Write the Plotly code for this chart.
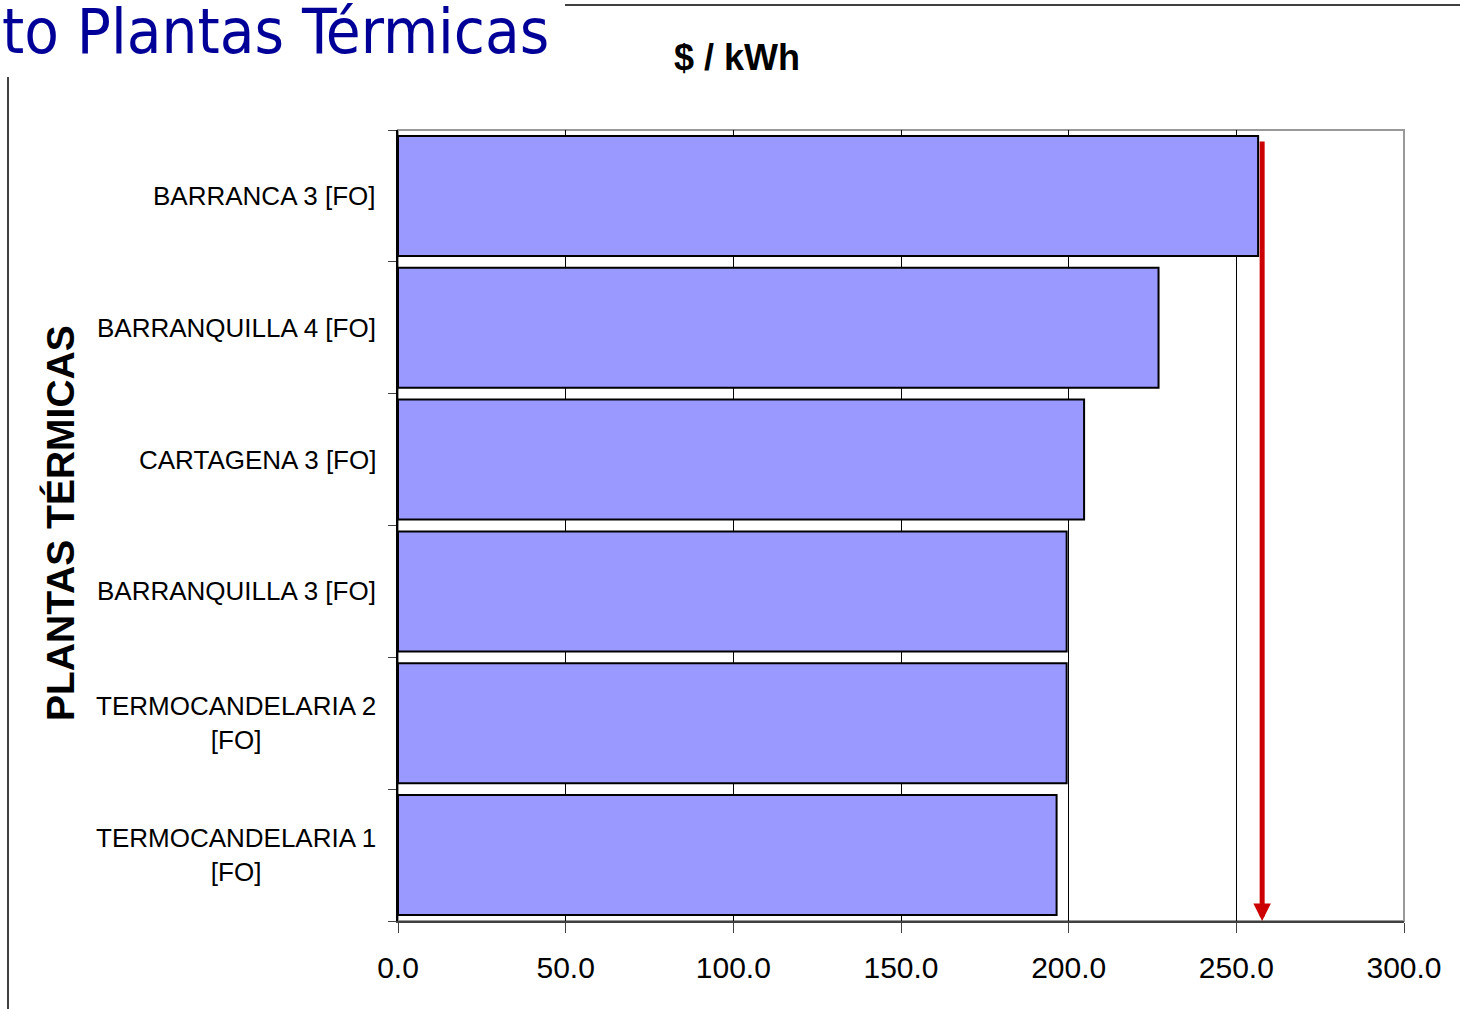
import plotly.graph_objects as go

# ---- data ----
plants = [
    "BARRANCA 3 [FO]",
    "BARRANQUILLA 4 [FO]",
    "CARTAGENA 3 [FO]",
    "BARRANQUILLA 3 [FO]",
    "TERMOCANDELARIA 2<br>[FO]",
    "TERMOCANDELARIA 1<br>[FO]",
]
cost_per_kwh = [256.5, 226.8, 204.6, 199.4, 199.4, 196.4]
reference_value = 257.7
x_ticks = [0, 50, 100, 150, 200, 250, 300]
x_tick_labels = ["0.0", "50.0", "100.0", "150.0", "200.0", "250.0", "300.0"]

title_text = "to Plantas Térmicas"
unit_text = "$ / kWh"
axis_title = "PLANTAS TÉRMICAS"

W, H = 1460, 1009
L, R, T, B = 398, 56, 130, 88
PW, PH = W - L - R, H - T - B


def px(xp):
    return (xp - L) / PW


def py(yp):
    return (H - B - yp) / PH


fig = go.Figure()
fig.add_trace(go.Bar(
    y=list(range(len(plants))),
    x=cost_per_kwh,
    orientation="h",
    marker=dict(color="#9999FF", line=dict(color="black", width=2)),
    width=0.91,
    hoverinfo="skip",
))

annotations = []
for i, name in enumerate(plants):
    annotations.append(dict(
        x=px(378), xref="paper", y=i, yref="y",
        text=name, showarrow=False, xanchor="right", yanchor="middle",
        align="center",
        font=dict(family="Liberation Sans, Arial", size=26, color="black"),
    ))

annotations += [
    dict(x=px(0), xref="paper", y=py(31), yref="paper", text=title_text,
         showarrow=False, xanchor="left", yanchor="middle",
         font=dict(family="DejaVu Sans Condensed, Open Sans", size=63, color="#000099")),
    dict(x=px(737), xref="paper", y=py(58), yref="paper", text="<b>" + unit_text + "</b>",
         showarrow=False, xanchor="center", yanchor="middle",
         font=dict(family="Liberation Sans, Arial", size=36, color="black")),
    dict(x=px(60), xref="paper", y=py(523), yref="paper", text="<b>" + axis_title + "</b>",
         showarrow=False, xanchor="center", yanchor="middle", textangle=-90,
         font=dict(family="Liberation Sans, Arial", size=39, color="black")),
    dict(x=reference_value, xref="x", y=0, yref="paper",
         ax=0, ay=-(H - B - 140), axref="pixel", ayref="pixel",
         text="", showarrow=True, arrowhead=2, arrowsize=0.7, arrowwidth=5,
         arrowcolor="#CC0000", standoff=0, startstandoff=0),
]

shapes = [
    dict(type="rect", xref="paper", yref="paper", x0=0, x1=1, y0=0, y1=1,
         line=dict(color="#999999", width=2), layer="below"),
    dict(type="line", xref="paper", yref="paper", x0=px(565), x1=px(1460), y0=py(5), y1=py(5),
         line=dict(color="black", width=1.5)),
    dict(type="line", xref="paper", yref="paper", x0=px(8), x1=px(8), y0=py(77), y1=py(1009),
         line=dict(color="black", width=1.5)),
]

fig.update_layout(
    width=W, height=H,
    margin=dict(l=L, r=R, t=T, b=B),
    paper_bgcolor="white", plot_bgcolor="white",
    showlegend=False,
    annotations=annotations,
    shapes=shapes,
    xaxis=dict(
        range=[0, 300], tickvals=x_ticks, ticktext=x_tick_labels,
        showgrid=True, gridcolor="black", gridwidth=1,
        showline=True, linecolor="#404040", linewidth=2,
        ticks="outside", ticklen=10, tickcolor="#404040", tickwidth=1,
        tickfont=dict(family="Liberation Sans, Arial", size=30, color="black"),
        ticklabelstandoff=9,
        zeroline=False, fixedrange=True,
    ),
    yaxis=dict(
        range=[len(plants) - 0.5, -0.5],
        tickvals=[i - 0.5 for i in range(len(plants) + 1)],
        showticklabels=False,
        showgrid=False, zeroline=False,
        showline=True, linecolor="black", linewidth=2,
        ticks="outside", ticklen=8, tickcolor="#404040", tickwidth=1,
        fixedrange=True,
    ),
)

fig.write_html(
    "out.html",
    config={"displayModeBar": False},
    post_script="document.body.style.margin='0';document.body.style.overflow='hidden';",
)
